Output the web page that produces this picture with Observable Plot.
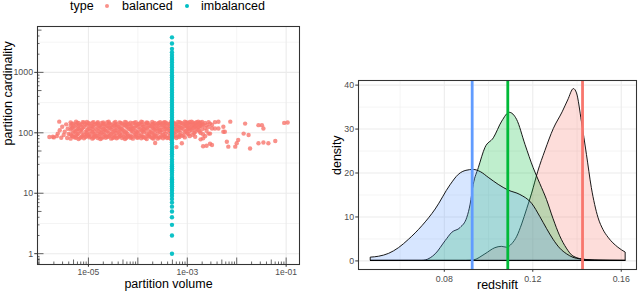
<!DOCTYPE html>
<html><head><meta charset="utf-8">
<script src="https://cdn.jsdelivr.net/npm/d3@7"></script>
<script src="https://cdn.jsdelivr.net/npm/@observablehq/plot@0.6"></script>
<style>
body{margin:0;background:#fff;font-family:"Liberation Sans",Arial,sans-serif;}
#wrap{position:relative;width:640px;height:295px;overflow:hidden;background:#fff;}
#legend{position:absolute;left:0;top:0;width:320px;height:22px;font-size:12.5px;color:#000;}
#legend span{position:absolute;top:0px;line-height:1;white-space:nowrap;}
#legend i{position:absolute;top:4px;width:4px;height:4px;border-radius:50%;}
#left{position:absolute;left:0;top:22px;}
#right{position:absolute;left:320px;top:0;}
svg{overflow:visible}
</style></head><body>
<div id="wrap"><div id="legend"></div><div id="left"></div><div id="right"></div></div>
<script>
// ---------- Left panel data ----------
const typeNames = ["balanced", "imbalanced"];
const typeColors = ["#F8766D", "#00BFC4"];
// balanced partitions: [log10(partition volume), partition cardinality]
const balancedPoints = [
[-5.79,85],[-5.72,86],[-5.70,84],[-5.64,88],[-5.62,97],[-5.59,153],[-5.58,110],[-5.55,83],[-5.53,126],[-5.50,92],[-5.48,104],[-5.45,138],[-5.43,82],[-5.42,117],[-5.40,96],
[-5.36,80],[-5.36,94],[-5.36,113],[-5.36,131],[-5.36,149],
[-5.31,87],[-5.31,101],[-5.31,122],[-5.31,142],
[-5.25,83],[-5.25,91],[-5.25,108],[-5.25,136],[-5.25,152],
[-5.20,79],[-5.20,97],[-5.20,118],[-5.20,128],[-5.20,145],
[-5.14,86],[-5.14,104],[-5.14,114],[-5.14,139],
[-5.09,81],[-5.09,93],[-5.09,125],[-5.09,148],
[-5.03,88],[-5.03,99],[-5.03,110],[-5.03,133],[-5.03,151],
[-4.98,84],[-4.98,95],[-4.98,119],[-4.98,141],
[-4.92,80],[-4.92,102],[-4.92,115],[-4.92,129],[-4.92,147],
[-4.87,86],[-4.87,91],[-4.87,106],[-4.87,137],
[-4.81,82],[-4.81,98],[-4.81,121],[-4.81,144],[-4.81,150],
[-4.76,79],[-4.76,94],[-4.76,112],[-4.76,132],
[-4.70,85],[-4.70,103],[-4.70,117],[-4.70,140],[-4.70,148],
[-4.65,83],[-4.65,90],[-4.65,109],[-4.65,127],
[-4.59,87],[-4.59,100],[-4.59,123],[-4.59,143],[-4.59,152],
[-4.54,80],[-4.54,96],[-4.54,114],[-4.54,135],
[-4.48,84],[-4.48,92],[-4.48,107],[-4.48,130],[-4.48,146],
[-4.43,81],[-4.43,99],[-4.43,120],[-4.43,139],
[-4.37,88],[-4.37,95],[-4.37,111],[-4.37,126],[-4.37,149],
[-4.32,82],[-4.32,101],[-4.32,116],[-4.32,142],
[-4.26,79],[-4.26,93],[-4.26,105],[-4.26,134],[-4.26,151],
[-4.21,86],[-4.21,97],[-4.21,122],[-4.21,138],
[-4.15,83],[-4.15,90],[-4.15,113],[-4.15,129],[-4.15,147],
[-4.10,80],[-4.10,104],[-4.10,118],[-4.10,144],
[-4.04,87],[-4.04,95],[-4.04,108],[-4.04,131],[-4.04,150],
[-3.99,84],[-3.99,99],[-3.99,124],[-3.99,140],
[-3.93,81],[-3.93,92],[-3.93,110],[-3.93,136],[-3.93,152],
[-3.88,85],[-3.88,102],[-3.88,115],[-3.88,128],
[-3.82,79],[-3.82,96],[-3.82,119],[-3.82,143],[-3.82,149],
[-3.77,88],[-3.77,94],[-3.77,106],[-3.77,133],
[-3.71,82],[-3.71,100],[-3.71,121],[-3.71,139],[-3.71,151],
[-3.66,86],[-3.66,91],[-3.66,112],[-3.66,127],[-3.66,146],[-3.65,68],
[-3.60,80],[-3.60,98],[-3.60,117],[-3.60,141],
[-3.55,84],[-3.55,103],[-3.55,109],[-3.55,134],[-3.55,150],
[-3.49,81],[-3.49,93],[-3.49,123],[-3.49,145],
[-3.44,87],[-3.44,97],[-3.44,114],[-3.44,130],[-3.44,148],
[-3.38,83],[-3.38,101],[-3.38,119],[-3.38,137],
[-3.33,79],[-3.33,95],[-3.33,107],[-3.33,142],[-3.33,151],
[-3.27,86],[-3.27,99],[-3.27,125],[-3.27,147],
[-3.22,58],[-3.22,82],[-3.22,104],[-3.22,116],[-3.22,135],
[-3.16,85],[-3.16,92],[-3.16,111],[-3.16,128],[-3.16,150],
[-3.11,67],[-3.11,89],[-3.11,120],[-3.11,144],
[-3.05,84],[-3.05,102],[-3.05,131],[-3.05,152],
[-3.00,97],[-3.00,113],[-3.00,126],[-3.00,146],
[-2.95,88],[-2.95,108],[-2.95,122],[-2.95,140],[-2.95,151],
[-2.89,93],[-2.89,118],[-2.89,135],[-2.89,149],
[-2.84,86],[-2.84,104],[-2.84,127],[-2.84,145],
[-2.78,111],[-2.78,124],[-2.78,141],[-2.78,153],
[-2.73,78],[-2.73,99],[-2.73,131],[-2.73,148],
[-2.68,60],[-2.68,81],[-2.68,95],[-2.68,138],
[-2.64,88],[-2.64,120],[-2.64,146],
[-2.61,61],[-2.61,108],[-2.61,133],
[-2.57,97],[-2.57,125],[-2.57,150],
[-2.54,142],[-2.54,97],[-2.54,66],
[-2.50,63],[-2.50,118],[-2.50,135],
[-2.44,118],[-2.44,150],[-2.37,152],[-2.37,118],[-2.27,126],[-2.27,104],
[-2.24,104],[-2.20,71],[-2.17,59],[-2.13,153],[-2.03,59],[-2.00,67],[-1.97,76],
[-1.86,97],[-1.83,142],[-1.76,92],[-1.73,55],[-1.56,134],[-1.56,67],[-1.49,134],
[-1.46,118],[-1.46,69],[-1.36,67],[-1.22,73],[-1.04,146],[-0.97,148],
[-5.335,89],[-5.335,119],[-5.335,140],[-5.28,84],[-5.28,105],[-5.28,128],
[-5.225,95],[-5.225,115],[-5.225,146],[-5.17,82],[-5.17,109],[-5.17,133],
[-5.115,90],[-5.115,121],[-5.115,150],[-5.06,85],[-5.06,103],[-5.06,138],
[-5.005,92],[-5.005,116],[-5.005,145],[-4.95,87],[-4.95,107],[-4.95,131],
[-4.895,83],[-4.895,96],[-4.895,124],[-4.895,150],[-4.84,89],[-4.84,114],[-4.84,140],
[-4.785,86],[-4.785,105],[-4.785,129],[-4.73,81],[-4.73,99],[-4.73,124],[-4.73,146],
[-4.675,93],[-4.675,113],[-4.675,137],[-4.62,85],[-4.62,106],[-4.62,130],[-4.62,150],
[-4.565,90],[-4.565,119],[-4.565,142],[-4.51,82],[-4.51,102],[-4.51,125],
[-4.455,88],[-4.455,111],[-4.455,136],[-4.455,151],[-4.40,84],[-4.40,104],[-4.40,128],
[-4.345,91],[-4.345,118],[-4.345,145],[-4.29,86],[-4.29,109],[-4.29,133],
[-4.235,82],[-4.235,100],[-4.235,127],[-4.235,149],[-4.18,88],[-4.18,115],[-4.18,140],
[-4.125,85],[-4.125,107],[-4.125,126],[-4.07,92],[-4.07,121],[-4.07,147],
[-4.015,83],[-4.015,103],[-4.015,135],[-3.96,89],[-3.96,116],[-3.96,143],
[-3.905,86],[-3.905,106],[-3.905,126],[-3.905,150],[-3.85,82],[-3.85,110],[-3.85,138],
[-3.795,90],[-3.795,123],[-3.795,146],[-3.74,85],[-3.74,104],[-3.74,129],
[-3.685,80],[-3.685,96],[-3.685,118],[-3.685,142],[-3.63,88],[-3.63,108],[-3.63,132],
[-3.575,84],[-3.575,121],[-3.575,146],[-3.52,91],[-3.52,111],[-3.52,138],
[-3.465,86],[-3.465,105],[-3.465,127],[-3.465,150],[-3.41,82],[-3.41,117],[-3.41,143],
[-3.355,89],[-3.355,110],[-3.355,131],[-3.30,85],[-3.30,103],[-3.30,122],[-3.30,148],
[-3.245,92],[-3.245,114],[-3.245,140],[-3.19,87],[-3.19,108],[-3.19,129],[-3.19,151],
[-3.135,100],[-3.135,123],[-3.135,147],[-3.08,90],[-3.08,115],[-3.08,138],
[-3.025,106],[-3.025,130],[-3.025,150],[-2.97,95],[-2.97,118],[-2.97,143],
[-2.915,110],[-2.915,128],[-2.915,152],[-2.86,99],[-2.86,121],[-2.86,139],
[-2.81,116],[-2.81,135],[-2.81,150],[-2.755,105],[-2.755,127],[-2.755,146],
[-2.70,114],[-2.70,132],[-2.70,151]
];
// imbalanced partitions: single partition volume, many cardinalities
const imbalancedVolume = 4.9e-4;
const imbalancedCardinality = [1,2,3,4,5,6,7,8,9,10,11,12,13,14,15,16,17,18,20,22,24,26,28,30,33,36,40,44,48,53,58,64,70,77,85,93,102,112,123,135,148,163,179,197,217,239,263,289,318,350,385,423,465,512,563,620,680,750,820,900,990,1090,1200,1320,1450,1600,1750,1930,2150,2450,3000,3800];

const volumeTicks = [1e-5, 1e-3, 1e-1];
const volumeTickLabels = ["1e-05", "1e-03", "1e-01"];
const volumeMinorGrid = [1e-6, 1e-4, 1e-2];
const cardinalityTicks = [1, 10, 100, 1000];
const cardinalityTickLabels = ["1", "10", "100", "1000"];
const cardinalityMinorGrid = [3.1623, 31.623, 316.23, 3162.3];

// ---------- Right panel data ----------
// density curves [redshift, density]
const densityBlue = [[0.0469,0.75],[0.0505,0.95],[0.0550,1.6],[0.0595,2.9],[0.0640,4.8],[0.0701,7.9],[0.0761,11.7],[0.0828,17.2],[0.0866,19.6],[0.0900,20.5],[0.0933,20.7],[0.0965,20.2],[0.1001,18.9],[0.1046,17.3],[0.1091,16.0],[0.1144,15.0],[0.1197,13.0],[0.1234,10.0],[0.1264,7.3],[0.1294,4.8],[0.1324,2.8],[0.1355,1.5],[0.1384,0.7],[0.1415,0.35],[0.1480,0.1],[0.1550,0.02],[0.1620,0]];
const densityGreen = [[0.0469,0],[0.0700,0],[0.0716,0.1],[0.0761,1.5],[0.0806,4.5],[0.0836,6.4],[0.0874,7.5],[0.0904,9.8],[0.0919,12.8],[0.0933,17.3],[0.0956,21.1],[0.0986,25.7],[0.1024,27.9],[0.1062,31.7],[0.1096,33.7],[0.1129,32.1],[0.1167,26.4],[0.1204,21.1],[0.1234,17.5],[0.1264,13.9],[0.1294,9.5],[0.1324,5.6],[0.1354,2.8],[0.1384,1.0],[0.1440,0.2],[0.1500,0.03],[0.1620,0]];
const densityRed = [[0.0469,0],[0.0900,0],[0.0933,0.1],[0.0986,1.5],[0.1031,2.9],[0.1060,3.2],[0.1084,3.0],[0.1107,3.8],[0.1130,5.5],[0.1152,8.3],[0.1175,11.8],[0.1197,15.3],[0.1225,20.3],[0.1257,25.0],[0.1295,30.0],[0.1335,33.8],[0.1360,36.5],[0.1386,39.1],[0.1400,38.1],[0.1422,31.7],[0.1445,24.1],[0.1467,16.6],[0.1497,9.8],[0.1520,7.0],[0.1542,5.3],[0.1587,3.0],[0.1620,1.9]];
const densityColors = {blue: "#619CFF", green: "#00BA38", red: "#F8766D"};
const meanRedshift = {blue: 0.0926, green: 0.1087, red: 0.1425};
const redshiftTicks = [0.08, 0.12, 0.16];
const redshiftMinorGrid = [0.06, 0.10, 0.14];
const densityTicks = [0, 10, 20, 30, 40];
const densityMinorGrid = [5, 15, 25, 35];

// ---------- Legend ----------
const legend = document.getElementById("legend");
legend.innerHTML =
  `<span style="left:70px">type</span>` +
  `<i style="left:105px;background:${typeColors[0]};opacity:0.8"></i>` +
  `<span style="left:122px">${typeNames[0]}</span>` +
  `<i style="left:185px;background:${typeColors[1]}"></i>` +
  `<span style="left:201px">${typeNames[1]}</span>`;

const font = "Liberation Sans, Arial, sans-serif";
const tickColor = "#333333", labelColor = "#4D4D4D", gridColor = "#EBEBEB";

// log ticks (annotation_logticks style)
const decades = [-7,-6,-5,-4,-3,-2,-1,0,1,2,3,4];
const logTicksOf = (mults) => decades.flatMap(d => mults.map(m => m * 10 ** d));
const inDomain = (dom) => (v) => v >= dom[0] && v <= dom[1];
const xDom = [10 ** -6.03, 10 ** -0.73];
const yDom = [10 ** -0.179, 10 ** 3.759];
const leftW = 320, leftH = 273, lMT = 4, lMB = 31, lML = 37, lMR = 21;
const innerW = leftW - lML - lMR, innerH = leftH - lMT - lMB;
const tickSets = [[[1], 6.5], [[5], 4.5], [[2,3,4,6,7,8,9], 2.5]];

const logTickMarks = tickSets.flatMap(([mults, len]) => [
  Plot.ruleX(logTicksOf(mults).filter(inDomain(xDom)), {stroke: "#000", strokeWidth: 0.6, insetTop: innerH - len}),
  Plot.ruleY(logTicksOf(mults).filter(inDomain(yDom)), {stroke: "#000", strokeWidth: 0.6, insetRight: innerW - len})
]);

const volLabel = new Map(volumeTicks.map((v, i) => [v, volumeTickLabels[i]]));
const cardLabel = new Map(cardinalityTicks.map((v, i) => [v, cardinalityTickLabels[i]]));

const left = Plot.plot({
  width: leftW, height: leftH,
  marginTop: lMT, marginBottom: lMB, marginLeft: lML, marginRight: lMR,
  style: {fontFamily: font, background: "white", color: "black"},
  x: {type: "log", domain: xDom},
  y: {type: "log", domain: yDom},
  marks: [
    Plot.ruleX(volumeMinorGrid.filter(inDomain(xDom)), {stroke: gridColor, strokeWidth: 0.55}),
    Plot.ruleX(volumeTicks, {stroke: gridColor, strokeWidth: 1.07}),
    Plot.ruleY(cardinalityMinorGrid, {stroke: gridColor, strokeWidth: 0.55}),
    Plot.ruleY(cardinalityTicks, {stroke: gridColor, strokeWidth: 1.07}),
    Plot.dot(balancedPoints, {x: d => 10 ** d[0], y: d => d[1], r: 2.2, fill: typeColors[0], fillOpacity: 0.8, stroke: null}),
    Plot.dot(imbalancedCardinality, {x: () => imbalancedVolume, y: d => d, r: 2.2, fill: typeColors[1], fillOpacity: 0.95, stroke: null}),
    ...logTickMarks,
    Plot.frame({stroke: tickColor, strokeWidth: 1.07}),
    Plot.axisX(volumeTicks, {anchor: "bottom", tickSize: 2.75, tickPadding: 2, tickFormat: d => volLabel.get(d), fontSize: 8.5, fill: labelColor, stroke: tickColor, label: null}),
    Plot.axisY(cardinalityTicks, {anchor: "left", tickSize: 2.75, tickPadding: 1.7, tickFormat: d => cardLabel.get(d), fontSize: 8.8, fill: labelColor, stroke: tickColor, label: null}),
    Plot.text(["partition volume"], {frameAnchor: "bottom", dy: 23.5, fontSize: 12.5, fill: "black"}),
    Plot.text(["partition cardinality"], {frameAnchor: "left", dx: -29.5, rotate: -90, fontSize: 12.5, fill: "black"})
  ]
});
document.getElementById("left").append(left);

const groups = ["red", "green", "blue"];
const densityData = {blue: densityBlue, green: densityGreen, red: densityRed};

const right = Plot.plot({
  width: 320, height: 295,
  marginTop: 80, marginBottom: 26, marginLeft: 38, marginRight: 4,
  style: {fontFamily: font, background: "white", color: "black"},
  x: {domain: [0.0412, 0.1669]},
  y: {domain: [-1.955, 41.05]},
  marks: [
    Plot.ruleX(redshiftMinorGrid, {stroke: gridColor, strokeWidth: 0.55}),
    Plot.ruleX(redshiftTicks, {stroke: gridColor, strokeWidth: 1.07}),
    Plot.ruleY(densityMinorGrid, {stroke: gridColor, strokeWidth: 0.55}),
    Plot.ruleY(densityTicks, {stroke: gridColor, strokeWidth: 1.07}),
    ...groups.map(g => Plot.areaY(densityData[g], {x: d => d[0], y: d => d[1], fill: densityColors[g], fillOpacity: 0.25, stroke: "black", strokeWidth: 0.9, curve: "monotone-x"})),
    ...groups.map(g => Plot.ruleX([meanRedshift[g]], {stroke: densityColors[g], strokeWidth: 2.8})),
    Plot.frame({stroke: tickColor, strokeWidth: 1.07}),
    Plot.axisX(redshiftTicks, {anchor: "bottom", tickSize: 2.75, tickPadding: 3.8, tickFormat: d => d.toFixed(2), fontSize: 8.8, fill: labelColor, stroke: tickColor, label: null}),
    Plot.axisY(densityTicks, {anchor: "left", tickSize: 2.75, tickPadding: 1.7, tickFormat: d => String(d), fontSize: 8.8, fill: labelColor, stroke: tickColor, label: null}),
    Plot.text(["redshift"], {frameAnchor: "bottom", dy: 19.5, fontSize: 12.5, fill: "black"}),
    Plot.text(["density"], {frameAnchor: "left", dx: -21.7, rotate: -90, fontSize: 12.5, fill: "black"})
  ]
});
document.getElementById("right").append(right);
</script>
</body></html>
